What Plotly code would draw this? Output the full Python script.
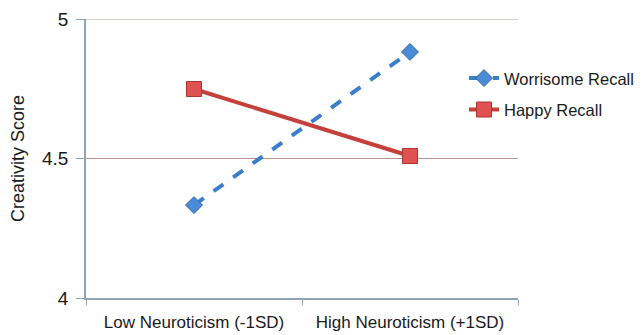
import plotly.graph_objects as go

categories = ["Low Neuroticism (-1SD)", "High Neuroticism (+1SD)"]
worrisome = [4.333, 4.882]
happy = [4.749, 4.509]
y_ticks = [4, 4.5, 5]
y_tick_labels = ["4", "4.5", "5"]

FONT = "Liberation Sans, Arial, sans-serif"
GRID = "#b8958c"
AXIS = "#8ea4b4"

fig = go.Figure()
fig.add_trace(go.Scatter(
    x=categories, y=worrisome, name="Worrisome Recall", mode="lines+markers",
    line=dict(color="#3a7fcc", width=4, dash="dash"),
    marker=dict(symbol="diamond", size=13, color="#4a8ad6",
                line=dict(color="#2d66a8", width=1)),
    legendgroup="a",
))
fig.add_trace(go.Scatter(
    x=categories, y=happy, name="Happy Recall", mode="lines+markers",
    line=dict(color="#c4403b", width=4),
    marker=dict(symbol="square", size=15, color="#e05252",
                line=dict(color="#a83530", width=1)),
    legendgroup="b",
))

# top gridline (at the range edge)
fig.add_shape(type="line", xref="paper", yref="y", x0=0, x1=1, y0=y_ticks[-1], y1=y_ticks[-1],
              line=dict(color=GRID, width=1), layer="below")

fig.update_layout(
    width=660, height=335,
    margin=dict(l=78, r=150, t=11, b=45, autoexpand=False),
    paper_bgcolor="white", plot_bgcolor="white",
    font=dict(family=FONT, size=17, color="#1a1a1a"),
    showlegend=True,
    legend=dict(x=0.875, y=0.85, xanchor="left", yanchor="top",
                font=dict(size=16.5), tracegroupgap=7,
                bgcolor="rgba(0,0,0,0)"),
    xaxis=dict(
        type="category", range=[-0.5, 1.5], automargin=False,
        showline=True, linecolor=AXIS, linewidth=1.5,
        ticks="outside", tickson="boundaries", ticklen=5, tickcolor=AXIS,
        showgrid=False, tickfont=dict(size=17), ticklabelstandoff=8,
    ),
    yaxis=dict(
        range=[4, 5], tickvals=y_ticks, ticktext=y_tick_labels, automargin=False,
        showline=True, linecolor=AXIS, linewidth=1.5,
        ticks="outside", ticklen=8, tickcolor=AXIS,
        showgrid=True, gridcolor=GRID, gridwidth=1,
        zeroline=False, tickfont=dict(size=19), ticklabelstandoff=4,
        title=dict(text="Creativity Score", font=dict(size=18), standoff=14),
    ),
)

fig.write_html("out.html")
